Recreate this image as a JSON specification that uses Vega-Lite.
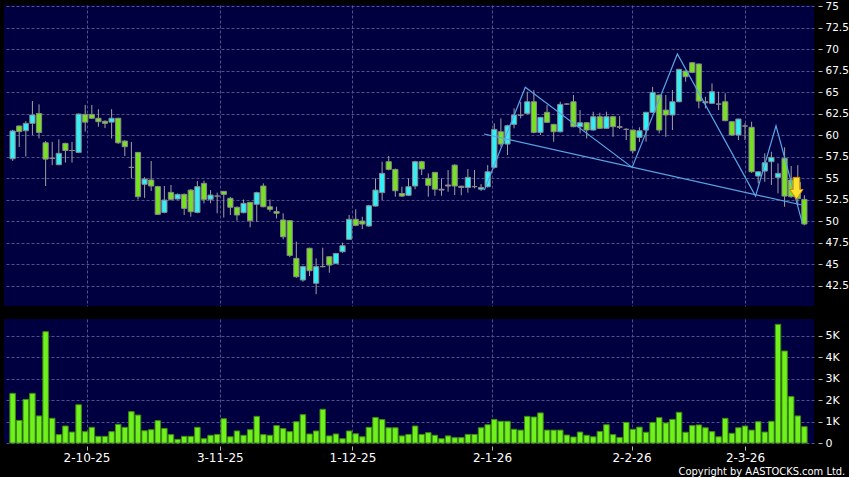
{
  "$schema": "https://vega.github.io/schema/vega-lite/v6.json",
  "background": "#000000",
  "padding": {"left": 4, "top": 1, "right": 0, "bottom": 0},
  "spacing": 13,
  "config": {
    "view": {"fill": "#000040", "stroke": null},
    "axis": {"domain": false, "gridColor": "#50508a", "gridDash": [3, 2], "gridWidth": 1, "labelColor": "#ffffff", "tickColor": "#bbbbbb", "labelFont": "DejaVu Sans", "labelOverlap": false}
  },
  "datasets": {
    "ohlc": [
      {"i":0,"o":57.24,"h":60.6,"l":57.0,"c":60.47,"v":2310},
      {"i":1,"o":61.05,"h":61.1,"l":58.6,"c":60.4,"v":1050},
      {"i":2,"o":60.5,"h":61.6,"l":57.5,"c":61.36,"v":2030},
      {"i":3,"o":61.36,"h":63.95,"l":60.0,"c":62.33,"v":2310},
      {"i":4,"o":62.5,"h":63.57,"l":59.6,"c":60.3,"v":1260},
      {"i":5,"o":59.1,"h":59.3,"l":54.07,"c":57.2,"v":5180},
      {"i":6,"o":57.3,"h":59.2,"l":56.5,"c":57.3,"v":1150},
      {"i":7,"o":56.55,"h":59.5,"l":56.5,"c":57.87,"v":390},
      {"i":8,"o":59.03,"h":59.1,"l":56.8,"c":58.2,"v":790},
      {"i":9,"o":58.2,"h":59.2,"l":56.8,"c":58.2,"v":510},
      {"i":10,"o":57.98,"h":62.5,"l":57.9,"c":62.44,"v":1780},
      {"i":11,"o":62.4,"h":63.5,"l":60.4,"c":61.5,"v":530},
      {"i":12,"o":62.4,"h":63.5,"l":61.9,"c":61.95,"v":730},
      {"i":13,"o":61.95,"h":63.0,"l":60.97,"c":61.55,"v":310},
      {"i":14,"o":61.6,"h":61.7,"l":60.8,"c":61.36,"v":310},
      {"i":15,"o":61.5,"h":63.0,"l":59.6,"c":61.95,"v":530},
      {"i":16,"o":61.95,"h":62.0,"l":58.95,"c":59.1,"v":870},
      {"i":17,"o":59.3,"h":59.4,"l":57.56,"c":58.64,"v":730},
      {"i":18,"o":56.24,"h":59.2,"l":54.96,"c":56.24,"v":1460},
      {"i":19,"o":57.98,"h":58.0,"l":52.5,"c":52.83,"v":1300},
      {"i":20,"o":54.27,"h":55.1,"l":52.7,"c":54.88,"v":570},
      {"i":21,"o":54.77,"h":56.98,"l":53.5,"c":54.07,"v":620},
      {"i":22,"o":54.0,"h":54.1,"l":50.7,"c":50.78,"v":1040},
      {"i":23,"o":51.0,"h":54.07,"l":50.9,"c":52.44,"v":680},
      {"i":24,"o":53.33,"h":54.2,"l":52.4,"c":52.52,"v":390},
      {"i":25,"o":52.56,"h":53.2,"l":52.5,"c":53.1,"v":170},
      {"i":26,"o":53.1,"h":53.2,"l":50.7,"c":51.47,"v":310},
      {"i":27,"o":53.6,"h":53.7,"l":50.5,"c":51.08,"v":310},
      {"i":28,"o":51.0,"h":54.65,"l":50.9,"c":54.0,"v":730},
      {"i":29,"o":54.38,"h":54.7,"l":52.06,"c":52.52,"v":200},
      {"i":30,"o":52.52,"h":53.6,"l":52.06,"c":53.02,"v":360},
      {"i":31,"o":52.9,"h":53.3,"l":50.9,"c":52.9,"v":400},
      {"i":32,"o":53.45,"h":53.5,"l":50.4,"c":53.1,"v":1130},
      {"i":33,"o":52.64,"h":52.8,"l":50.7,"c":51.6,"v":290},
      {"i":34,"o":51.6,"h":51.7,"l":50.04,"c":50.7,"v":560},
      {"i":35,"o":50.97,"h":52.5,"l":50.9,"c":52.06,"v":360},
      {"i":36,"o":52.17,"h":52.2,"l":49.27,"c":50.04,"v":620},
      {"i":37,"o":51.95,"h":53.4,"l":49.9,"c":53.3,"v":1240},
      {"i":38,"o":54.07,"h":54.38,"l":51.6,"c":51.66,"v":390},
      {"i":39,"o":51.66,"h":52.5,"l":51.08,"c":51.36,"v":360},
      {"i":40,"o":51.1,"h":51.66,"l":50.3,"c":50.9,"v":810},
      {"i":41,"o":50.12,"h":50.9,"l":47.87,"c":48.17,"v":670},
      {"i":42,"o":50.04,"h":50.1,"l":45.8,"c":46.0,"v":530},
      {"i":43,"o":45.66,"h":47.6,"l":43.4,"c":43.52,"v":990},
      {"i":44,"o":43.14,"h":44.8,"l":42.94,"c":44.7,"v":1320},
      {"i":45,"o":46.83,"h":46.9,"l":43.6,"c":44.22,"v":420},
      {"i":46,"o":42.76,"h":45.66,"l":41.5,"c":44.7,"v":560},
      {"i":47,"o":44.7,"h":46.9,"l":44.6,"c":44.7,"v":1570},
      {"i":48,"o":45.85,"h":45.9,"l":43.99,"c":44.88,"v":330},
      {"i":49,"o":45.07,"h":46.3,"l":45.0,"c":46.23,"v":420},
      {"i":50,"o":46.43,"h":47.48,"l":46.3,"c":47.13,"v":200},
      {"i":51,"o":47.87,"h":50.7,"l":47.8,"c":50.2,"v":560},
      {"i":52,"o":50.2,"h":51.36,"l":49.4,"c":49.5,"v":430},
      {"i":53,"o":50.0,"h":50.5,"l":49.07,"c":49.65,"v":290},
      {"i":54,"o":49.42,"h":51.9,"l":49.3,"c":51.78,"v":730},
      {"i":55,"o":51.74,"h":54.96,"l":51.7,"c":53.6,"v":1190},
      {"i":56,"o":53.3,"h":56.9,"l":52.44,"c":55.54,"v":1090},
      {"i":57,"o":56.9,"h":57.56,"l":55.9,"c":56.0,"v":710},
      {"i":58,"o":56.0,"h":56.1,"l":52.83,"c":53.52,"v":710},
      {"i":59,"o":53.2,"h":53.99,"l":52.8,"c":52.9,"v":330},
      {"i":60,"o":52.99,"h":54.96,"l":52.9,"c":53.99,"v":400},
      {"i":61,"o":54.07,"h":57.0,"l":53.7,"c":56.9,"v":790},
      {"i":62,"o":56.9,"h":57.0,"l":55.35,"c":56.05,"v":400},
      {"i":63,"o":54.96,"h":55.54,"l":52.83,"c":54.15,"v":480},
      {"i":64,"o":55.66,"h":55.7,"l":52.94,"c":53.7,"v":360},
      {"i":65,"o":53.7,"h":54.96,"l":52.94,"c":53.6,"v":200},
      {"i":66,"o":54.19,"h":55.93,"l":53.4,"c":54.07,"v":330},
      {"i":67,"o":56.5,"h":56.6,"l":53.02,"c":54.07,"v":250},
      {"i":68,"o":54.05,"h":54.1,"l":53.0,"c":53.9,"v":250},
      {"i":69,"o":53.9,"h":56.05,"l":53.3,"c":55.08,"v":400},
      {"i":70,"o":54.0,"h":55.93,"l":53.8,"c":54.0,"v":400},
      {"i":71,"o":53.7,"h":54.3,"l":53.5,"c":53.9,"v":710},
      {"i":72,"o":53.99,"h":56.5,"l":53.9,"c":55.73,"v":850},
      {"i":73,"o":56.24,"h":61.36,"l":56.1,"c":60.66,"v":1100},
      {"i":74,"o":60.38,"h":61.94,"l":58.64,"c":58.95,"v":1010},
      {"i":75,"o":58.95,"h":61.2,"l":57.67,"c":61.08,"v":1010},
      {"i":76,"o":61.24,"h":63.1,"l":60.78,"c":62.33,"v":640},
      {"i":77,"o":62.3,"h":63.87,"l":61.94,"c":62.3,"v":600},
      {"i":78,"o":62.52,"h":65.04,"l":62.4,"c":63.87,"v":1240},
      {"i":79,"o":63.87,"h":65.23,"l":60.2,"c":60.31,"v":1210},
      {"i":80,"o":60.31,"h":62.1,"l":60.0,"c":62.06,"v":1400},
      {"i":81,"o":62.64,"h":63.49,"l":61.4,"c":61.48,"v":600},
      {"i":82,"o":61.24,"h":61.3,"l":59.22,"c":60.38,"v":600},
      {"i":83,"o":60.38,"h":63.87,"l":60.3,"c":63.57,"v":600},
      {"i":84,"o":63.6,"h":63.7,"l":63.5,"c":63.6,"v":370},
      {"i":85,"o":63.87,"h":64.65,"l":60.9,"c":60.97,"v":280},
      {"i":86,"o":60.97,"h":62.9,"l":60.2,"c":61.43,"v":510},
      {"i":87,"o":61.43,"h":61.5,"l":59.6,"c":60.58,"v":360},
      {"i":88,"o":60.58,"h":62.71,"l":60.5,"c":62.13,"v":290},
      {"i":89,"o":62.13,"h":62.6,"l":60.7,"c":60.78,"v":540},
      {"i":90,"o":60.78,"h":62.71,"l":60.7,"c":62.13,"v":850},
      {"i":91,"o":62.13,"h":62.2,"l":59.8,"c":60.97,"v":390},
      {"i":92,"o":60.97,"h":62.2,"l":60.7,"c":60.9,"v":260},
      {"i":93,"o":60.66,"h":60.8,"l":59.42,"c":60.66,"v":960},
      {"i":94,"o":60.58,"h":60.6,"l":57.87,"c":58.17,"v":640},
      {"i":95,"o":59.73,"h":60.9,"l":59.2,"c":60.5,"v":740},
      {"i":96,"o":60.58,"h":62.7,"l":59.22,"c":62.64,"v":500},
      {"i":97,"o":62.64,"h":65.6,"l":62.6,"c":64.96,"v":960},
      {"i":98,"o":64.65,"h":64.7,"l":60.2,"c":60.58,"v":1180},
      {"i":99,"o":62.9,"h":64.65,"l":59.8,"c":62.33,"v":930},
      {"i":100,"o":62.33,"h":65.23,"l":60.58,"c":63.87,"v":1100},
      {"i":101,"o":63.87,"h":67.7,"l":63.8,"c":67.64,"v":1430},
      {"i":102,"o":67.44,"h":67.5,"l":66.2,"c":66.78,"v":500},
      {"i":103,"o":68.41,"h":68.5,"l":67.2,"c":67.29,"v":810},
      {"i":104,"o":68.26,"h":68.3,"l":63.1,"c":63.95,"v":840},
      {"i":105,"o":63.87,"h":64.45,"l":63.1,"c":63.75,"v":710},
      {"i":106,"o":63.69,"h":66.0,"l":63.6,"c":65.04,"v":530},
      {"i":107,"o":63.6,"h":65.04,"l":62.9,"c":63.6,"v":290},
      {"i":108,"o":63.87,"h":64.85,"l":61.6,"c":61.67,"v":1150},
      {"i":109,"o":61.55,"h":61.6,"l":59.9,"c":60.0,"v":450},
      {"i":110,"o":60.0,"h":61.9,"l":59.42,"c":61.86,"v":710},
      {"i":111,"o":61.05,"h":61.36,"l":59.42,"c":61.05,"v":790},
      {"i":112,"o":60.9,"h":61.55,"l":55.6,"c":55.73,"v":600},
      {"i":113,"o":55.23,"h":55.8,"l":54.38,"c":55.73,"v":990},
      {"i":114,"o":55.81,"h":57.87,"l":54.57,"c":56.78,"v":510},
      {"i":115,"o":56.9,"h":58.06,"l":54.19,"c":57.4,"v":1010},
      {"i":116,"o":55.08,"h":56.7,"l":53.22,"c":55.54,"v":5520},
      {"i":117,"o":57.29,"h":58.57,"l":51.66,"c":52.9,"v":4280},
      {"i":118,"o":54.77,"h":56.4,"l":52.7,"c":52.83,"v":2160},
      {"i":119,"o":54.5,"h":56.5,"l":51.8,"c":52.6,"v":1260},
      {"i":120,"o":52.52,"h":53.0,"l":49.5,"c":49.65,"v":760}
    ],
    "neck": [
      {"i":71.45,"p":60.12},
      {"i":119.65,"p":51.86}
    ],
    "zig": [
      {"i":71.5,"p":53.6},
      {"i":77.7,"p":65.55},
      {"i":93.9,"p":56.24},
      {"i":100.75,"p":69.42},
      {"i":112.6,"p":52.9},
      {"i":115.7,"p":61.08},
      {"i":119.7,"p":49.73}
    ],
    "arrow": [
      {"i":118.8,"p":53.8}
    ]
  },
  "vconcat": [
    {
      "width": 810,
      "height": 301,
      "layer": [
        {
          "data": {"name": "ohlc"},
          "mark": {"type": "rule", "color": "#a0a0a0", "strokeWidth": 1},
          "encoding": {
            "x": {"field": "i", "type": "quantitative", "scale": {"domain": [-0.55, 120.7], "nice": false, "zero": false},
                  "axis": {"values": [11.2, 31.4, 51.5, 72.65, 93.8, 111.0], "tickCount": 30, "labels": false, "ticks": false, "grid": true, "title": null}},
            "y": {"field": "l", "type": "quantitative", "scale": {"domain": [40.12, 75.12], "nice": false, "zero": false},
                  "axis": {"orient": "right", "values": [42.5, 45, 47.5, 50, 52.5, 55, 57.5, 60, 62.5, 65, 67.5, 70, 72.5, 75], "tickCount": 30, "labelExpr": "datum.value + ''", "offset": 4, "tickSize": 4, "labelPadding": 3, "labelFontSize": 10.5, "labelOverlap": false, "grid": true, "title": null}},
            "y2": {"field": "h"}
          }
        },
        {
          "data": {"name": "ohlc"},
          "mark": {"type": "bar", "width": 5.2, "stroke": "#8a8a8a", "strokeWidth": 1},
          "encoding": {
            "x": {"field": "i", "type": "quantitative"},
            "y": {"field": "o", "type": "quantitative"},
            "y2": {"field": "c"},
            "fill": {"condition": [{"test": "abs(datum.c - datum.o) < 0.19", "value": "#9a9a9a"}, {"test": "datum.c > datum.o", "value": "#33eef5"}], "value": "#77e022"}
          }
        },
        {
          "data": {"name": "neck"},
          "mark": {"type": "line", "color": "#58a4e4", "strokeWidth": 1.2},
          "encoding": {
            "x": {"field": "i", "type": "quantitative"},
            "y": {"field": "p", "type": "quantitative"}
          }
        },
        {
          "data": {"name": "zig"},
          "mark": {"type": "line", "color": "#58a4e4", "strokeWidth": 1.2},
          "encoding": {
            "x": {"field": "i", "type": "quantitative"},
            "y": {"field": "p", "type": "quantitative"}
          }
        },
        {
          "data": {"name": "arrow"},
          "mark": {"type": "point", "shape": "M-0.3,-1L0.3,-1L0.3,0.1L0.6,0.1L0,1L-0.6,0.1L-0.3,0.1Z", "size": 484, "filled": true, "fill": "#ffe030", "stroke": "#d08a00", "strokeWidth": 1, "opacity": 1},
          "encoding": {
            "x": {"field": "i", "type": "quantitative"},
            "y": {"field": "p", "type": "quantitative"}
          }
        }
      ]
    },
    {
      "width": 810,
      "height": 124,
      "title": {"text": "Copyright by AASTOCKS.com Ltd.", "orient": "bottom", "anchor": "end", "frame": "bounds", "color": "#ffffff", "font": "DejaVu Sans Condensed, DejaVu Sans", "fontSize": 11, "fontWeight": "normal", "offset": 3, "dx": 6},
      "data": {"name": "ohlc"},
      "mark": {"type": "bar", "width": 5.5, "fill": "#70f01c", "stroke": "#3c8c12", "strokeWidth": 1},
      "encoding": {
        "x": {"field": "i", "type": "quantitative", "scale": {"domain": [-0.55, 120.7], "nice": false, "zero": false},
              "axis": {"values": [11.2, 31.4, 51.5, 72.65, 93.8, 111.0], "tickCount": 30, "labelExpr": "datum.value < 20 ? '2-10-25' : datum.value < 40 ? '3-11-25' : datum.value < 60 ? '1-12-25' : datum.value < 80 ? '2-1-26' : datum.value < 100 ? '2-2-26' : '2-3-26'", "orient": "bottom", "offset": 3, "tickSize": 4, "labelPadding": 2, "labelFontSize": 12, "grid": true, "title": null}},
        "y": {"field": "v", "type": "quantitative", "scale": {"domain": [0, 5770], "nice": false},
              "axis": {"orient": "right", "values": [0, 1000, 2000, 3000, 4000, 5000], "tickCount": 30, "labelExpr": "datum.value == 0 ? '0' : (datum.value / 1000) + 'K'", "offset": 4, "tickSize": 4, "labelPadding": 3, "labelFontSize": 11, "grid": true, "title": null}}
      }
    }
  ]
}
